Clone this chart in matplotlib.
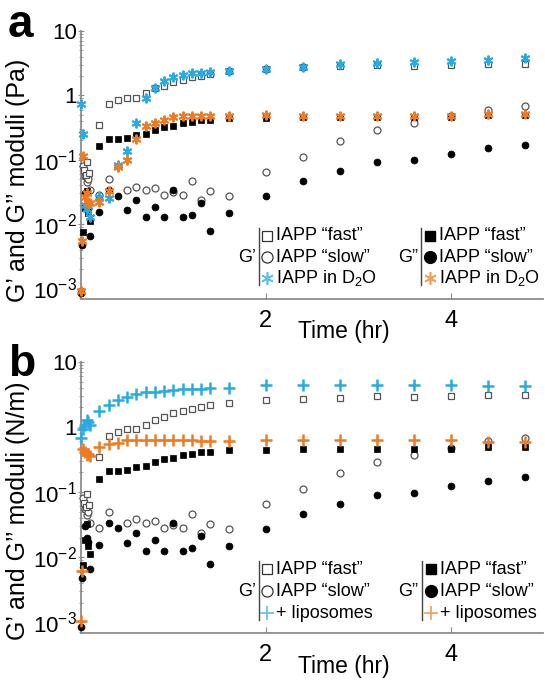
import numpy as np
import matplotlib
matplotlib.use('Agg')
import matplotlib.pyplot as plt
from matplotlib.lines import Line2D
from matplotlib.ticker import LogLocator, NullFormatter

plt.rcParams['font.family'] = ['Liberation Sans', 'DejaVu Sans']
plt.rcParams['mathtext.fontset'] = 'custom'
plt.rcParams['mathtext.rm'] = 'Liberation Sans'
plt.rcParams['mathtext.it'] = 'Liberation Sans:italic'

W, H = 545, 682
BLUE = '#29abe2'
ORANGE = '#ee7a22'
BLUE_LEG = '#5cc0ec'
ORANGE_LEG = '#f0a05a'
GREY = '#555555'
AXIS_GREY = '#8c8c8c'

nan = float('nan')

# time points (hr) after the first few minutes, shared by all series
t_main = [0.2, 0.3, 0.4, 0.5, 0.6, 0.7, 0.8, 0.9, 1.0, 1.1, 1.2, 1.3, 1.4,
          1.6, 2.0, 2.4, 2.8, 3.2, 3.6, 4.0, 4.4, 4.8]

# IAPP "fast": G' (open squares) and G'' (filled squares)
fast_gp_t0 = [0.03, 0.05, 0.07, 0.09]
fast_gp_v0 = [0.068, 0.058, 0.093, 0.063]
fast_gp = [0.35, 0.73, 0.84, 0.92, 0.92, 1.07, 1.30, 1.41, 1.63, 1.75, 1.90,
           2.03, 2.16, 2.37, 2.58, 2.74, 2.84, 3.0, 2.88, 3.0, 3.1, 3.1]
fast_gpp_t0 = [0.02, 0.04, 0.06, 0.08, 0.1]
fast_gpp_v0 = [0.0075, 0.018, 0.032, 0.015, 0.011]
fast_gpp = [0.16, 0.21, 0.21, 0.22, 0.24, 0.25, 0.29, 0.32, 0.335, 0.37, 0.39,
            0.41, 0.42, 0.45, 0.45, 0.46, 0.46, 0.46, 0.46, 0.46, 0.50, 0.50]

# IAPP "slow": G' (open circles) and G'' (filled circles)
slow_gp_t0 = [0.02, 0.04, 0.06, 0.08, 0.1]
slow_gp_v0 = [0.08, 0.055, 0.045, 0.05, 0.034]
slow_gp = [0.0285, 0.05, nan, 0.034, 0.038, 0.034, 0.036, 0.0285, 0.031, 0.0285,
           0.046, 0.0235, 0.032, 0.027, 0.065, 0.11, 0.195, 0.29, 0.37, 0.47,
           0.60, 0.68]
slow_gpp_t0 = [0.0, 0.01, 0.04, 0.06, 0.08, 0.1]
slow_gpp_v0 = [0.00085, 0.0047, 0.030, 0.020, 0.017, 0.0065]
slow_gpp = [0.0153, 0.034, 0.0276, 0.0163, 0.0235, 0.0126, 0.0186, 0.0126, 0.034,
            0.0126, 0.014, 0.021, 0.0078, 0.0148, 0.027, 0.046, 0.066, 0.091,
            0.098, 0.124, 0.15, 0.17]

# IAPP in D2O (panel a)
d2o_gp_t0 = [0.0, 0.02, 0.04, 0.06, 0.08, 0.1]
d2o_gp_v0 = [0.72, 0.25, 0.020, 0.017, 0.019, 0.013]
d2o_gp = [0.026, 0.025, 0.083, 0.137, 0.37, 0.90, 1.30, 1.69, 1.95, 2.1, 2.2,
          2.26, 2.32, 2.43, 2.61, 2.8, 3.1, 3.17, 3.25, 3.4, 3.6, 3.8]
d2o_gpp_t0 = [0.0, 0.01, 0.02, 0.04, 0.06, 0.08, 0.1]
d2o_gpp_v0 = [0.00092, 0.0055, 0.115, 0.026, 0.030, 0.021, 0.021]
d2o_gpp = [0.022, 0.032, 0.078, 0.098, 0.21, 0.33, 0.37, 0.42, 0.46, 0.47, 0.47,
           0.47, 0.47, 0.47, 0.50, 0.48, 0.48, 0.48, 0.48, 0.48, 0.52, 0.52]

# IAPP + liposomes (panel b)
lipo_gp_t0 = [0.0, 0.02, 0.04, 0.06, 0.08, 0.1]
lipo_gp_v0 = [0.69, 0.92, 1.07, 1.28, 1.2, 1.07]
lipo_gp = [1.76, 2.18, 2.6, 2.9, 3.2, 3.4, 3.5, 3.6, 3.7, 3.8, 3.85, 3.9, 4.0,
           4.05, 4.4, 4.4, 4.4, 4.4, 4.4, 4.4, 4.2, 4.2]
lipo_gpp_t0 = [0.0, 0.01, 0.02, 0.04, 0.06, 0.08, 0.1]
lipo_gpp_v0 = [0.00105, 0.0062, 0.46, 0.42, 0.37, 0.38, 0.36]
lipo_gpp = [0.50, 0.55, 0.56, 0.63, 0.64, 0.63, 0.63, 0.63, 0.63, 0.63, 0.63,
            0.62, 0.62, 0.62, 0.63, 0.63, 0.63, 0.63, 0.63, 0.63, 0.58, 0.58]

y_ticks = [1e-3, 1e-2, 1e-1, 1, 10]
y_tick_labels = [r'$\mathregular{10^{-3}}$', r'$\mathregular{10^{-2}}$',
                 r'$\mathregular{10^{-1}}$', '1', '10']

STAR = (6, 2, 0)


def fx(x):
    return x / W


def fy(y):
    return 1 - y / H


def style_axes(ax, ylabel, ylab_y):
    ax.set_yscale('log')
    ax.set_xlim(0, 5.0)
    ax.set_ylim(6.8e-4, 10)
    for s in ['top', 'right']:
        ax.spines[s].set_visible(False)
    for s in ['left', 'bottom']:
        ax.spines[s].set_color(AXIS_GREY)
        ax.spines[s].set_linewidth(1.3)
    ax.set_xticks([2, 4])
    ax.set_xticklabels(['2', '4'])
    ax.set_yticks(y_ticks)
    ax.set_yticklabels(y_tick_labels)
    ax.yaxis.set_minor_locator(LogLocator(base=10, subs=np.arange(2, 10)))
    ax.yaxis.set_minor_formatter(NullFormatter())
    ax.tick_params(axis='x', which='major', labelsize=17, color=AXIS_GREY,
                   length=4, direction='in', pad=8)
    ax.tick_params(axis='y', which='major', labelsize=16, color=AXIS_GREY,
                   length=4, direction='inout', pad=1)
    ax.tick_params(axis='y', which='minor', color=AXIS_GREY, length=2.5,
                   direction='inout')
    ax.set_xlabel('Time (hr)', fontsize=16.5, va='center')
    ax.xaxis.set_label_coords(0.569, -0.123)
    ax.set_ylabel(ylabel, fontsize=18, va='center')
    ax.yaxis.set_label_coords(-0.136, ylab_y)


def plot_series(ax, t0, v0, v, **kw):
    ax.plot(list(t0) + t_main, list(v0) + list(v), linestyle='none',
            clip_on=False, **kw)


def draw_legend(fig, rows, blocks):
    # blocks: (label, label_x, bar_x, marker_x, text_x, entries)
    for lab, lab_x, bar_x, mk_x, tx_x, entries in blocks:
        fig.text(fx(lab_x), fy(rows[1]), lab, fontsize=13, ha='center', va='center')
        fig.add_artist(Line2D([fx(bar_x), fx(bar_x)],
                              [fy(rows[0] - 8), fy(rows[2] + 7)],
                              color='#444444', lw=1.0, transform=fig.transFigure))
        for y, (mk, text) in zip(rows, entries):
            fig.add_artist(Line2D([fx(mk_x)], [fy(y)], transform=fig.transFigure,
                                  linestyle='none', **mk))
            fig.text(fx(tx_x), fy(y), text, fontsize=13, ha='left', va='center')


fig = plt.figure(figsize=(W / 100, H / 100), dpi=100)
ax_a = fig.add_axes([fx(81), fy(299), 462 / W, 268 / H])
ax_b = fig.add_axes([fx(81), fy(633), 462 / W, 271 / H])

open_sq = dict(marker='s', ms=5, mfc='white', mec=GREY, mew=0.9)
open_ci = dict(marker='o', ms=5, mfc='white', mec=GREY, mew=0.9)
fill_sq = dict(marker='s', ms=5, mfc='black', mec='black', mew=0.5)
fill_ci = dict(marker='o', ms=5, mfc='black', mec='black', mew=0.5)

for ax in (ax_a, ax_b):
    plot_series(ax, slow_gp_t0, slow_gp_v0, slow_gp, **open_ci, zorder=3)
    plot_series(ax, slow_gpp_t0, slow_gpp_v0, slow_gpp, **fill_ci, zorder=3)
    plot_series(ax, fast_gp_t0, fast_gp_v0, fast_gp, **open_sq, zorder=3)
    plot_series(ax, fast_gpp_t0, fast_gpp_v0, fast_gpp, **fill_sq, zorder=3)

plot_series(ax_a, d2o_gp_t0, d2o_gp_v0, d2o_gp, marker=STAR, ms=7, mec=BLUE,
            mew=1.4, zorder=4)
plot_series(ax_a, d2o_gpp_t0, d2o_gpp_v0, d2o_gpp, marker=STAR, ms=7, mec=ORANGE,
            mew=1.4, zorder=4)
plot_series(ax_b, lipo_gp_t0, lipo_gp_v0, lipo_gp, marker='+', ms=8, mec=BLUE,
            mew=1.8, zorder=4)
plot_series(ax_b, lipo_gpp_t0, lipo_gpp_v0, lipo_gpp, marker='+', ms=8, mec=ORANGE,
            mew=1.8, zorder=4)

style_axes(ax_a, 'G’ and G’’ moduli (Pa)', 0.444)
style_axes(ax_b, 'G’ and G’’ moduli (N/m)', 0.452)

fig.text(fx(8), fy(37), 'a', fontsize=33, fontweight='bold', ha='left', va='baseline')
fig.text(fx(8), fy(376), 'b', fontsize=32, fontweight='bold', ha='left', va='baseline')

leg_sq = dict(marker='s', ms=7.5, mfc='white', mec='#333333', mew=0.9)
leg_ci = dict(marker='o', ms=8, mfc='white', mec='#333333', mew=0.9)
leg_fsq = dict(marker='s', ms=7.5, mfc='black', mec='black')
leg_fci = dict(marker='o', ms=8.5, mfc='black', mec='black')

d2o = r'IAPP in D$_\mathregular{2}$O'
draw_legend(fig, [236, 257, 278], [
    ('G’', 247, 259, 267, 276, [
        (leg_sq, 'IAPP “fast”'), (leg_ci, 'IAPP “slow”'),
        (dict(marker=STAR, ms=9, mec=BLUE_LEG, mew=1.2), d2o)]),
    ('G”', 408, 421, 430, 439, [
        (leg_fsq, 'IAPP “fast”'), (leg_fci, 'IAPP “slow”'),
        (dict(marker=STAR, ms=9, mec=ORANGE_LEG, mew=1.2), d2o)]),
])
draw_legend(fig, [569, 591, 613], [
    ('G’', 247, 259, 267, 276, [
        (leg_sq, 'IAPP “fast”'), (leg_ci, 'IAPP “slow”'),
        (dict(marker='+', ms=10, mec=BLUE_LEG, mew=1.2), '+ liposomes')]),
    ('G”', 408, 422, 431, 440, [
        (leg_fsq, 'IAPP “fast”'), (leg_fci, 'IAPP “slow”'),
        (dict(marker='+', ms=10, mec=ORANGE_LEG, mew=1.2), '+ liposomes')]),
])

fig.savefig('out.png', dpi=100)
